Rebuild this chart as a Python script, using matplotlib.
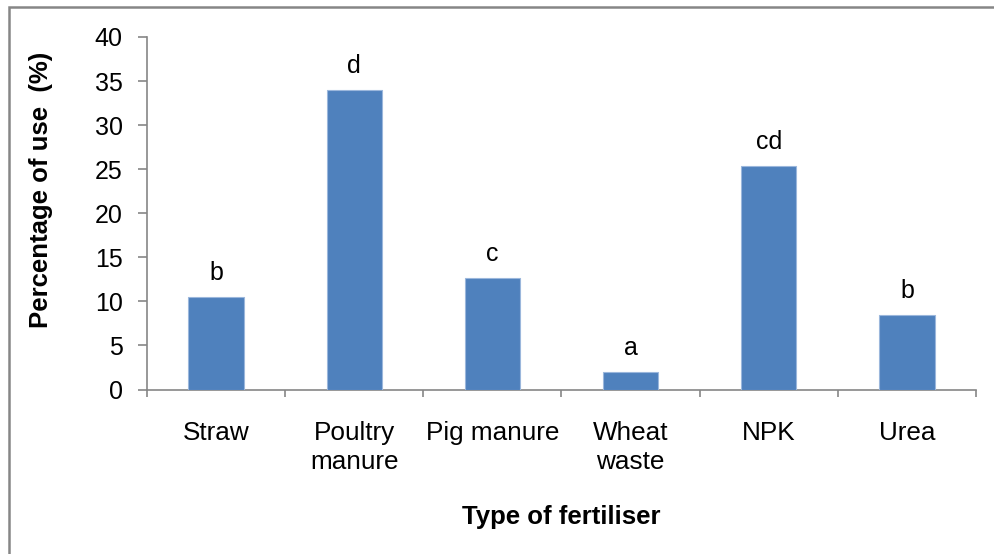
import matplotlib
matplotlib.use("Agg")
import matplotlib.pyplot as plt
from matplotlib.patches import Rectangle
import numpy as np

categories = ["Straw", "Poultry\nmanure", "Pig manure", "Wheat\nwaste", "NPK", "Urea"]
values = [10.5, 34.0, 12.7, 2.0, 25.4, 8.5]
letters = ["b", "d", "c", "a", "cd", "b"]
yticks = [0, 5, 10, 15, 20, 25, 30, 35, 40]

plt.rcParams['font.family'] = ['Liberation Sans', 'DejaVu Sans']
axis_gray = "#868686"
bar_color = "#4F81BD"
W, H = 995, 554

fig = plt.figure(figsize=(9.95, 5.54), dpi=100)
ax = fig.add_axes([147 / W, 1 - 389.5 / H, (976 - 147) / W, (389.5 - 37) / H])

x = np.arange(len(categories))
ax.bar(x, values, width=0.40, color=bar_color, edgecolor="#9BB7DC", linewidth=0.8, zorder=3)

for xi, v, l in zip(x, values, letters):
    ax.annotate(l, (xi, v), xytext=(0, 12), textcoords="offset points",
                ha="center", va="baseline", fontsize=18)

ax.set_xlim(-0.5, len(categories) - 0.5)
ax.set_ylim(0, 40)
ax.set_yticks(yticks)
ax.set_yticklabels([str(t) for t in yticks], fontsize=18)
ax.set_xticks(x)
ax.set_xticklabels(categories, fontsize=18.8, linespacing=1.25)
ax.tick_params(axis='x', length=0, pad=23)
ax.set_xticks(np.arange(len(categories) + 1) - 0.5, minor=True)
ax.tick_params(axis='x', which='minor', length=5, color=axis_gray, width=1.2)
ax.tick_params(axis='y', length=6.5, color=axis_gray, width=1.2, pad=11)

for s in ["top", "right"]:
    ax.spines[s].set_visible(False)
for s in ["left", "bottom"]:
    ax.spines[s].set_color(axis_gray)
    ax.spines[s].set_linewidth(1.2)

fig.text(41 / W, 1 - 190 / H, "Percentage of use  (%)", rotation=90,
         ha="center", va="center", fontsize=18.5, fontweight="bold")
fig.text(561 / W, 1 - 517 / H, "Type of fertiliser",
         ha="center", va="center", fontsize=18.5, fontweight="bold")

fig.patches.append(Rectangle((9 / W, -10 / H), (W + 20) / W, (H + 3) / H,
                             transform=fig.transFigure, fill=False,
                             edgecolor=axis_gray, linewidth=1.8))

fig.savefig("out.png", dpi=100)
